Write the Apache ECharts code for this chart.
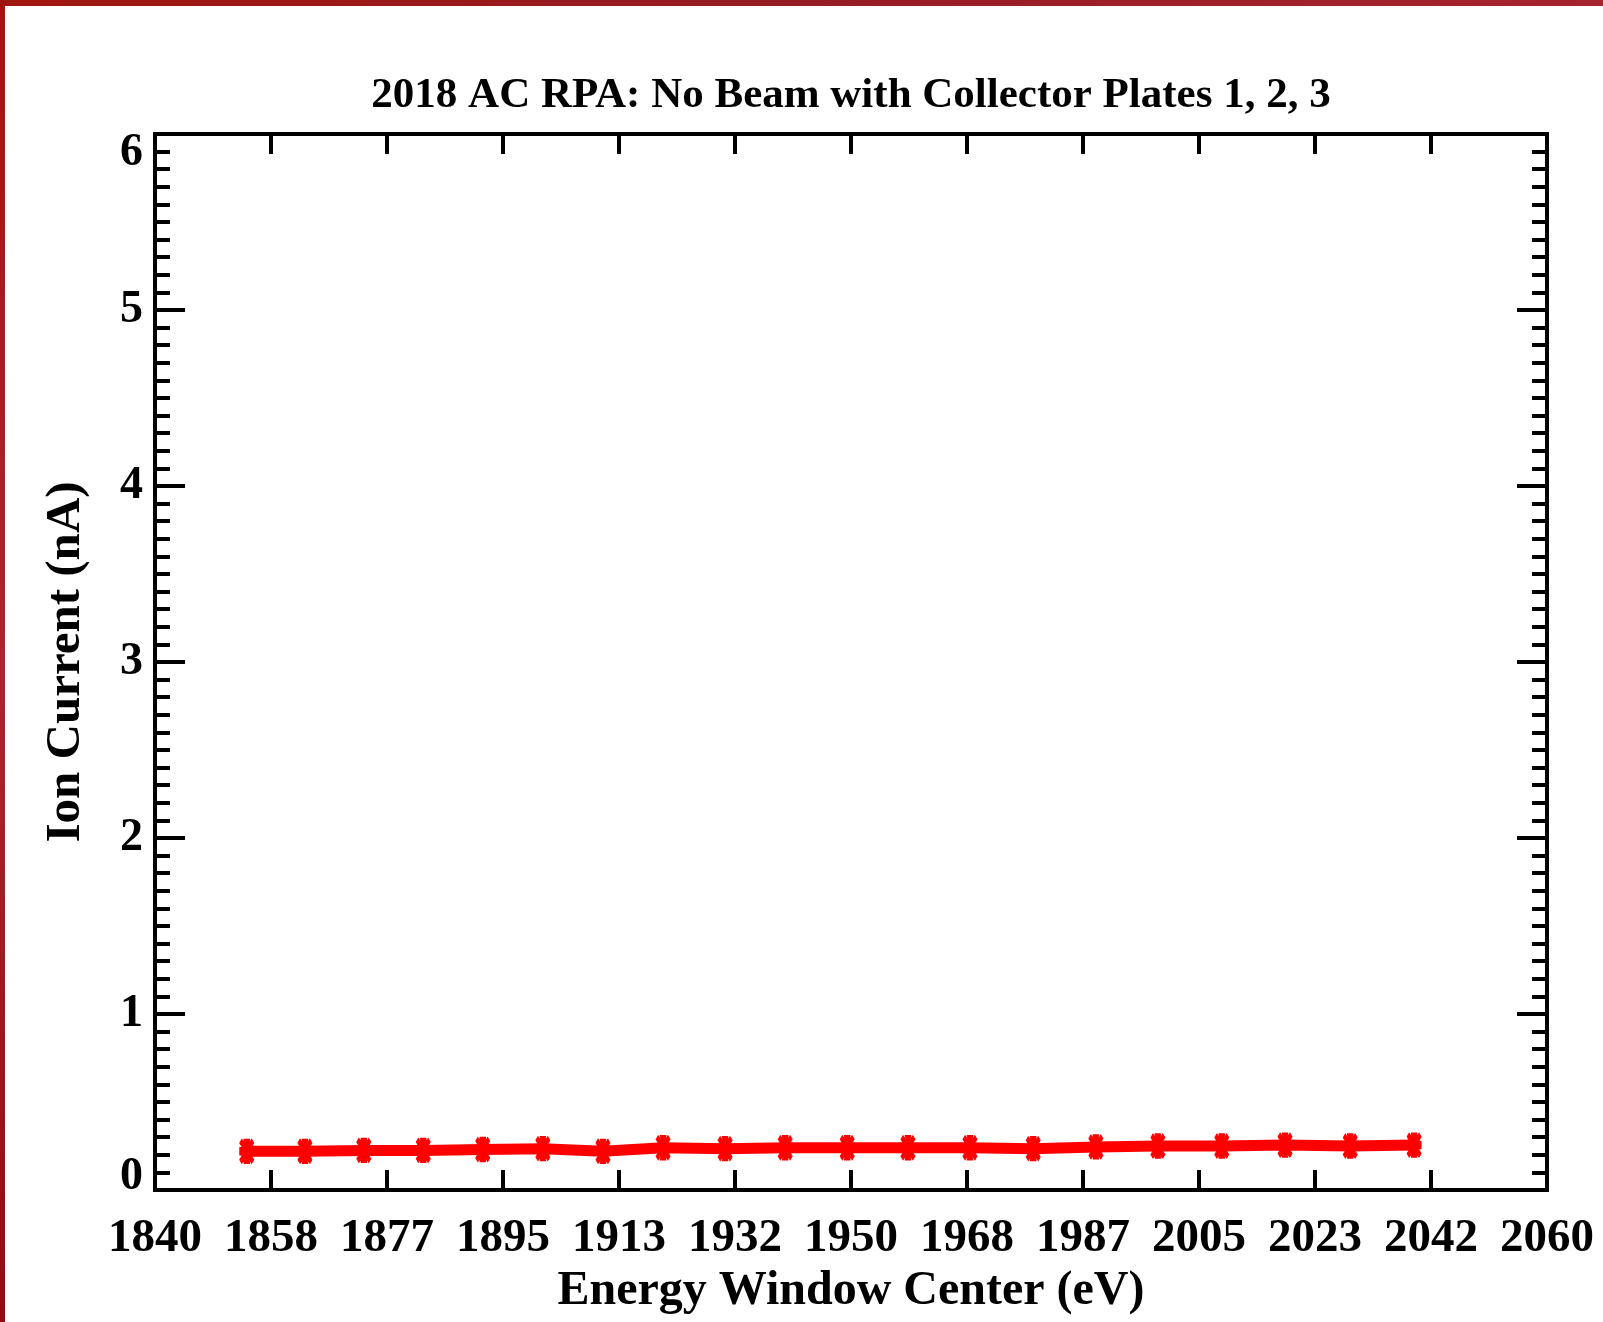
<!DOCTYPE html>
<html>
<head>
<meta charset="utf-8">
<script src="https://cdn.jsdelivr.net/npm/echarts@6/dist/echarts.min.js"></script>
<style>
  html, body { margin: 0; padding: 0; background: #fff; }
  #chart { width: 1603px; height: 1322px; }
</style>
</head>
<body>
<div id="chart"></div>
<script>
  // Energy window centers (eV) and ion current (nA)
  const energy = [1854.5, 1863.7, 1873.0, 1882.4, 1891.8, 1901.3, 1910.8, 1920.3, 1930.1, 1939.6,
                  1949.4, 1959.0, 1968.8, 1978.8, 1988.7, 1998.5, 2008.6, 2018.6, 2028.9, 2039.0];
  const current = [0.22, 0.22, 0.225, 0.225, 0.23, 0.235, 0.22, 0.24, 0.235, 0.24,
                   0.24, 0.24, 0.24, 0.235, 0.245, 0.25, 0.25, 0.255, 0.25, 0.255];

  // x ticks: 1840..2060 split in 12 (labels shown rounded)
  const xTicks = [1840, 1858.333, 1876.667, 1895, 1913.333, 1931.667, 1950,
                  1968.333, 1986.667, 2005, 2023.333, 2041.667, 2060];
  const xTickLabels = ['1840', '1858', '1877', '1895', '1913', '1932', '1950',
                       '1968', '1987', '2005', '2023', '2042', '2060'];

  const TITLE = '2018 AC RPA: No Beam with Collector Plates 1, 2, 3';
  const FONT = '"Liberation Serif", "Times New Roman", serif';
  const INK = '#000';
  const RED = '#ff0000';

  // thick IDL-style asterisk
  const STAR = 'path://M3,0 L7,0 L7,10 L3,10 Z M0,3.5 L10,3.5 L10,6.5 L0,6.5 Z ' +
               'M0,1.5 L1.5,0 L10,8.5 L8.5,10 Z M8.5,0 L10,1.5 L1.5,10 L0,8.5 Z';

  const labelFor = v => {
    const i = xTicks.findIndex(t => Math.abs(t - v) < 0.01);
    return i >= 0 ? xTickLabels[i] : String(Math.round(v));
  };

  const yLabelText = { color: INK, fontFamily: FONT, fontWeight: 'bold', fontSize: 46 };

  const xBase = (pos, showLabel) => ({
    type: 'value', position: pos, min: 1840, max: 2060,
    splitLine: { show: false },
    axisLine: { show: true, onZero: false, lineStyle: { color: INK, width: 4, cap: 'square' } },
    axisTick: { show: true, inside: true, length: 20, customValues: xTicks, lineStyle: { color: INK, width: 4 } },
    axisLabel: {
      show: showLabel, customValues: xTicks, margin: 25, formatter: labelFor,
      color: INK, fontFamily: FONT, fontWeight: 'bold', fontSize: 47,
    },
  });

  const yBase = (pos, showLabel) => ({
    type: 'value', position: pos, min: 0, max: 6, interval: 1,
    splitLine: { show: false },
    axisLine: { show: true, onZero: false, lineStyle: { color: INK, width: 4, cap: 'square' } },
    axisTick: { show: true, inside: true, length: 30, lineStyle: { color: INK, width: 4 } },
    minorTick: { show: true, splitNumber: 10, length: 15, lineStyle: { color: INK, width: 4 } },
    axisLabel: Object.assign({
      show: showLabel, margin: 12, lineHeight: 25,
      verticalAlignMinLabel: 'bottom', verticalAlignMaxLabel: 'top',
      formatter: v => (v === 6 ? '{hi|6}' : String(v)),
      rich: { hi: Object.assign({ lineHeight: 25, padding: [13, 0, 0, 0] }, yLabelText) },
    }, yLabelText),
  });

  const chart = echarts.init(document.getElementById('chart'), null, { renderer: 'canvas' });

  const xBottom = xBase('bottom', true);
  xBottom.name = 'Energy Window Center (eV)';
  xBottom.nameLocation = 'middle';
  xBottom.nameGap = 78;
  xBottom.nameTextStyle = { color: INK, fontFamily: FONT, fontWeight: 'bold', fontSize: 48 };

  const yLeft = yBase('left', true);
  yLeft.name = 'Ion Current (nA)';
  yLeft.nameLocation = 'middle';
  yLeft.nameRotate = 90;
  yLeft.nameGap = 64;
  yLeft.nameTextStyle = { color: INK, fontFamily: FONT, fontWeight: 'bold', fontSize: 49 };

  chart.setOption({
    backgroundColor: '#fff',
    animation: false,
    grid: { left: 155, right: 56, top: 134, bottom: 132, containLabel: false, outerBoundsMode: 'none' },
    xAxis: [xBottom, xBase('top', false)],
    yAxis: [yLeft, yBase('right', false)],
    graphic: [
      // dark red frame strips (top and left)
      { type: 'rect', left: 0, top: 0, z: 100, shape: { width: 1603, height: 6 },
        style: { fill: { type: 'linear', x: 0, y: 0, x2: 1, y2: 0, colorStops: [
          { offset: 0, color: '#a0170f' }, { offset: 0.5, color: '#951b24' }, { offset: 1, color: '#a6242f' }] } } },
      { type: 'rect', left: 0, top: 0, z: 100, shape: { width: 5, height: 1322 },
        style: { fill: { type: 'linear', x: 0, y: 0, x2: 0, y2: 1, colorStops: [
          { offset: 0, color: '#9e1510' }, { offset: 0.5, color: '#a22a30' }, { offset: 1, color: '#8a0f12' }] } } },
      { type: 'text', x: 851, y: 96, z: 100,
        style: { text: TITLE, fill: INK, font: 'bold 43px ' + FONT, textAlign: 'center', textVerticalAlign: 'middle' } },
    ],
    series: [{
      type: 'line',
      data: energy.map((e, i) => [e, current[i]]),
      xAxisIndex: 0, yAxisIndex: 0,
      symbol: STAR, symbolSize: [14, 24], showAllSymbol: true,
      lineStyle: { color: RED, width: 11 },
      itemStyle: { color: RED, borderColor: RED, borderWidth: 1 },
      z: 5,
    }],
  });
</script>
</body>
</html>
